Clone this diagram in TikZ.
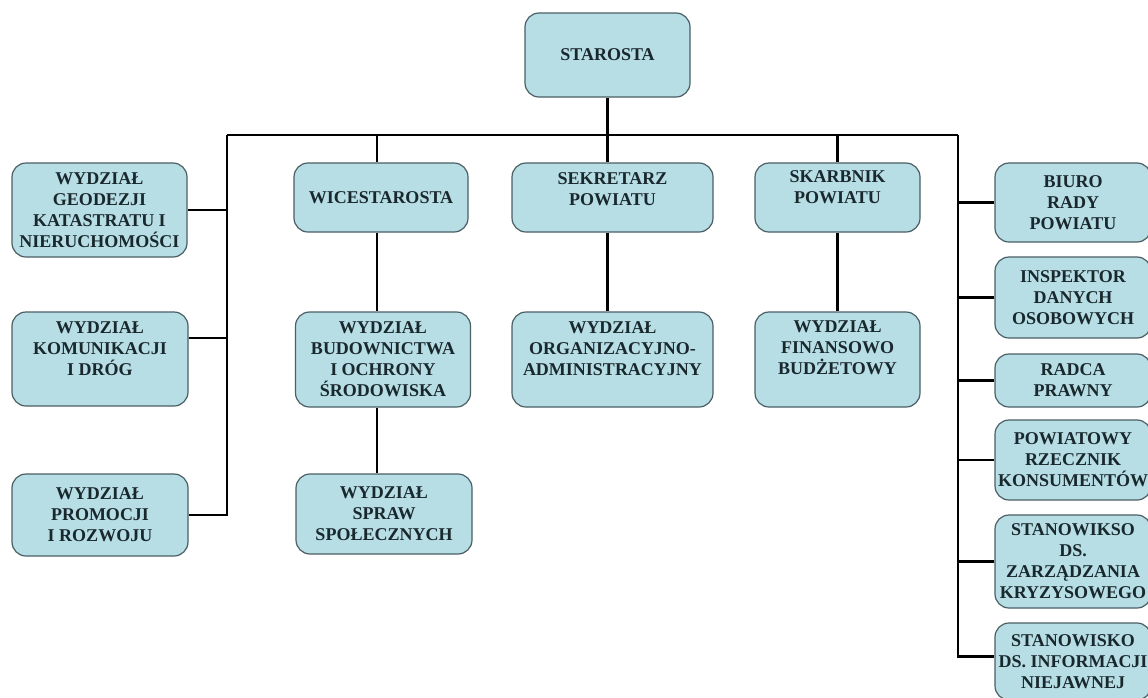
\documentclass[tikz,border=0pt]{standalone}
\usepackage{fontspec}
\setmainfont{Liberation Serif}
\usepackage{tikz}

\definecolor{boxfill}{RGB}{183,221,229}
\definecolor{boxline}{RGB}{75,95,100}
\definecolor{boxtext}{RGB}{25,40,45}

\tikzset{
	unit/.style={draw=boxline, fill=boxfill, line width=1.2pt, rounded corners=14pt,
		align=center, text=boxtext, inner sep=0pt,
		font=\fontsize{18}{21}\selectfont\bfseries},
	lift/.style={text depth=#1},
	bus/.style={line width=2.8pt, black},
}

\begin{document}
\begin{tikzpicture}[x=1pt,y=-1pt]
			\useasboundingbox (0,0) rectangle (1148,697);
			\clip (0,0) rectangle (1148,697);
			
			\node[unit, minimum width=165pt, minimum height=84pt] (star) at (607.5,55) {STAROSTA};
			
			\node[unit, minimum width=175pt, minimum height=94pt] (geo) at (99.5,210) {WYDZIAŁ\\GEODEZJI\\KATASTRATU I\\NIERUCHOMOŚCI};
			\node[unit, minimum width=176pt, minimum height=94pt, lift=20pt] (kom) at (100,359) {WYDZIAŁ\\KOMUNIKACJI\\I DRÓG};
			\node[unit, minimum width=176pt, minimum height=82pt] (prom) at (100,515) {WYDZIAŁ\\PROMOCJI\\I ROZWOJU};
			
			\node[unit, minimum width=174pt, minimum height=69pt] (wice) at (381,197.5) {WICESTAROSTA};
			\node[unit, minimum width=175pt, minimum height=95pt] (bud) at (383,359.5) {WYDZIAŁ\\BUDOWNICTWA\\I OCHRONY\\ŚRODOWISKA};
			\node[unit, minimum width=176pt, minimum height=80pt] (spraw) at (384,514) {WYDZIAŁ\\SPRAW\\SPOŁECZNYCH};
			
			\node[unit, minimum width=201pt, minimum height=69pt, lift=16pt] (sek) at (612.5,197.5) {SEKRETARZ\\POWIATU};
			\node[unit, minimum width=201pt, minimum height=95pt, lift=22pt] (org) at (612.5,359.5) {WYDZIAŁ\\ORGANIZACYJNO-\\ADMINISTRACYJNY};
			
			\node[unit, minimum width=165pt, minimum height=69pt, lift=20pt] (skar) at (837.5,197.5) {SKARBNIK\\POWIATU};
			\node[unit, minimum width=165pt, minimum height=95pt, lift=24pt] (fin) at (837.5,359.5) {WYDZIAŁ\\FINANSOWO\\BUDŻETOWY};
			
			\node[unit, minimum width=156pt, minimum height=79pt] (biuro) at (1073,202.5) {BIURO\\RADY\\POWIATU};
			\node[unit, minimum width=156pt, minimum height=81pt] (insp) at (1073,297.5) {INSPEKTOR\\DANYCH\\OSOBOWYCH};
			\node[unit, minimum width=156pt, minimum height=53pt] (radca) at (1073,380.5) {RADCA\\PRAWNY};
			\node[unit, minimum width=156pt, minimum height=80pt] (rzecz) at (1073,460) {POWIATOWY\\RZECZNIK\\KONSUMENTÓW};
			\node[unit, minimum width=156pt, minimum height=93pt] (kryz) at (1073,561.5) {STANOWIKSO\\DS.\\ZARZĄDZANIA\\KRYZYSOWEGO};
			\node[unit, minimum width=156pt, minimum height=77pt] (info) at (1073,661.5) {STANOWISKO\\DS. INFORMACJI\\NIEJAWNEJ};
			
			\coordinate (ltop) at (227,135);% left bus
			\coordinate (rtop) at (958,135);% right bus
			\coordinate (wtop) at (377,135);
			
			\path [bus] (ltop) edge (rtop);
			\path [bus] (star.south) edge (star.south |- sek.north);
			\path [bus] (star.south |- sek.south) edge (star.south |- org.north);
			\path [bus] (wtop) edge (wtop |- wice.north);
			\path [bus] (wtop |- wice.south) edge (wtop |- bud.north);
			\path [bus] (wtop |- bud.south) edge (wtop |- spraw.north);
			\path [bus] (skar.north |- ltop) edge (skar.north);
			\path [bus] (skar) edge (fin);
			
			\path [bus] (geo.east) edge (geo.east -| ltop);
			\path [bus] ([yshift=21pt]kom.east) edge ([yshift=21pt]kom.east -| ltop);
			\draw [bus] (prom.east) -| (ltop);
			
			\path [bus] (biuro.west) edge (biuro.west -| rtop);
			\path [bus] (insp.west) edge (insp.west -| rtop);
			\path [bus] (radca.west) edge (radca.west -| rtop);
			\path [bus] (rzecz.west) edge (rzecz.west -| rtop);
			\path [bus] (kryz.west) edge (kryz.west -| rtop);
			\draw [bus] ([yshift=5pt]info.west) -| (rtop);
			\end{tikzpicture}
\end{document}
